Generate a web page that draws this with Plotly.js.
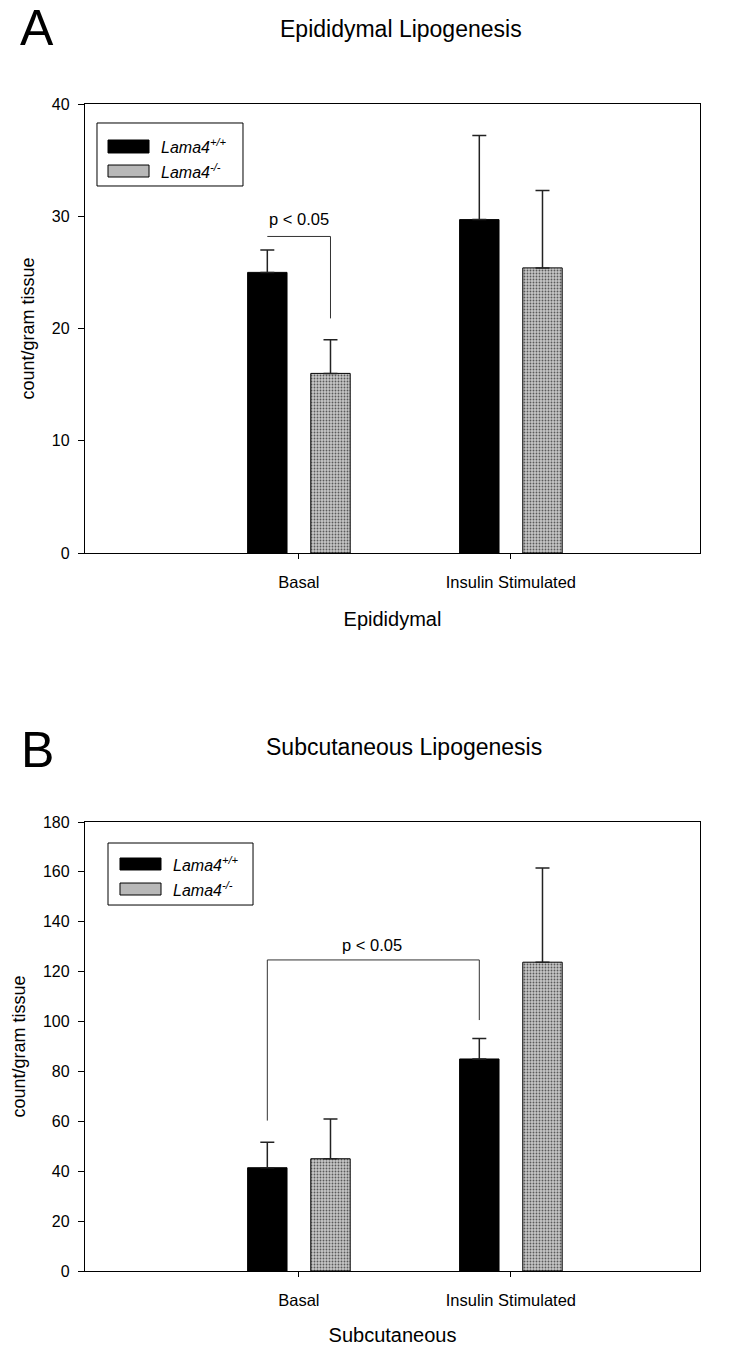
<!DOCTYPE html>
<html>
<head>
<meta charset="utf-8">
<script src="https://cdn.plot.ly/plotly-3.0.1.min.js"></script>
<style>html,body{margin:0;padding:0;background:#fff;}#chart{width:730px;height:1346px;}</style>
</head>
<body>
<div id="chart"></div>
<script>
// ---- data ----
const categories = ["Basal", "Insulin Stimulated"];
const seriesNames = ["Lama4<sup>+/+</sup>", "Lama4<sup>-/-</sup>"];

// Panel A: Epididymal lipogenesis (count/gram tissue)
const epiWT = [25.0, 29.7];
const epiWTErr = [2.0, 7.5];
const epiKO = [16.0, 25.4];
const epiKOErr = [3.0, 6.9];

// Panel B: Subcutaneous lipogenesis (count/gram tissue)
const subWT = [41.4, 85.0];
const subWTErr = [10.2, 8.2];
const subKO = [45.0, 123.8];
const subKOErr = [15.9, 37.8];

// significance brackets
const sigA = {y: 28.2, leftEnd: 28.2, rightEnd: 20.9, label: "p < 0.05", labelY: 29.8};
const sigB = {y: 124.7, leftEnd: 60.3, rightEnd: 100.6, label: "p < 0.05", labelY: 130.7};

const FONT = "Liberation Sans, Arial, Helvetica, sans-serif";
const BLACK = "#000000";
const GRAY = "#b8b8b8";

function barTrace(y, err, isKO, xa, ya) {
  const t = {
    type: "bar", x: categories, y: y, xaxis: xa, yaxis: ya, showlegend: false,
    marker: {color: isKO ? GRAY : BLACK, line: {color: "#000", width: 1}},
    error_y: {type: "data", symmetric: false, array: err, arrayminus: err.map(() => 0),
              color: "#222", thickness: 1.5, width: 7},
    hoverinfo: "skip"
  };
  if (isKO) {
    t.marker.pattern = {shape: ".", bgcolor: "#c6c6c6", fgcolor: "#5a5a5a", size: 3, solidity: 0.3};
  }
  return t;
}

const traces = [
  barTrace(epiWT, epiWTErr, false, "x", "y"),
  barTrace(epiKO, epiKOErr, true, "x", "y"),
  barTrace(subWT, subWTErr, false, "x2", "y2"),
  barTrace(subKO, subKOErr, true, "x2", "y2")
];

const off = 0.149;

const xCommon = {
  type: "category", range: [-1.009, 1.892], showline: true, mirror: true, linecolor: "#000", linewidth: 1.2,
  ticks: "outside", ticklen: 5, tickwidth: 1, tickcolor: "#000", showgrid: false, zeroline: false,
  tickfont: {family: FONT, size: 16.5, color: "#000"}, ticklabelstandoff: 9
};
const yCommon = {
  showline: true, mirror: true, linecolor: "#000", linewidth: 1.2, ticks: "outside", ticklen: 6,
  tickwidth: 1, tickcolor: "#000", showgrid: false, zeroline: false,
  tickfont: {family: FONT, size: 16, color: "#000"}, ticklabelstandoff: 5
};

const splitY = (1271 - 553) / 1167;
const topB = (1271 - 822) / 1167;

const layout = {
  width: 730, height: 1346, paper_bgcolor: "#fff", plot_bgcolor: "#fff",
  margin: {l: 85, r: 30, t: 104, b: 75},
  barmode: "group", bargap: 0.404, bargroupgap: 0.376,
  font: {family: FONT, color: "#000"},
  xaxis: Object.assign({}, xCommon, {domain: [0, 1], anchor: "y",
    title: {text: "Epididymal", font: {family: FONT, size: 20}, standoff: 22}}),
  yaxis: Object.assign({}, yCommon, {domain: [splitY, 1], anchor: "x", range: [0, 40], dtick: 10,
    title: {text: "count/gram tissue", font: {family: FONT, size: 18}, standoff: 12}}),
  xaxis2: Object.assign({}, xCommon, {domain: [0, 1], anchor: "y2",
    title: {text: "Subcutaneous", font: {family: FONT, size: 20}, standoff: 22}}),
  yaxis2: Object.assign({}, yCommon, {domain: [0, topB], anchor: "x2", range: [0, 180], dtick: 20,
    title: {text: "count/gram tissue", font: {family: FONT, size: 18}, standoff: 12}}),
  shapes: [],
  annotations: []
};

layout.annotations.push(
  {xref: "paper", yref: "paper", x: 0.5146, y: (1271 - 29) / 1167, text: "Epididymal Lipogenesis",
   showarrow: false, font: {family: FONT, size: 23}, xanchor: "center", yanchor: "middle"},
  {xref: "paper", yref: "paper", x: (37 - 85) / 615, y: (1271 - 28) / 1167, text: "A",
   showarrow: false, font: {family: FONT, size: 50}, xanchor: "center", yanchor: "middle"},
  {xref: "paper", yref: "paper", x: 0.519, y: (1271 - 747) / 1167, text: "Subcutaneous Lipogenesis",
   showarrow: false, font: {family: FONT, size: 23}, xanchor: "center", yanchor: "middle"},
  {xref: "paper", yref: "paper", x: (37 - 85) / 615, y: (1271 - 750) / 1167, text: "B",
   showarrow: false, font: {family: FONT, size: 50}, xanchor: "center", yanchor: "middle"}
);

function addLegend(xa, ya, box, sw1, sw2, tx, ty1, ty2) {
  const xr = xa + " domain", yr = ya + " domain";
  layout.shapes.push(
    {type: "rect", xref: xr, yref: yr, x0: box[0], x1: box[1], y0: box[2], y1: box[3],
     line: {color: "#000", width: 1}, fillcolor: "rgba(0,0,0,0)"},
    {type: "rect", xref: xr, yref: yr, x0: sw1[0], x1: sw1[1], y0: sw1[2], y1: sw1[3],
     line: {color: "#000", width: 1}, fillcolor: BLACK},
    {type: "rect", xref: xr, yref: yr, x0: sw2[0], x1: sw2[1], y0: sw2[2], y1: sw2[3],
     line: {color: "#000", width: 1}, fillcolor: GRAY}
  );
  layout.annotations.push(
    {xref: xr, yref: yr, x: tx, y: ty1, text: "<i>" + seriesNames[0] + "</i>", showarrow: false,
     xanchor: "left", yanchor: "middle", font: {family: FONT, size: 16}},
    {xref: xr, yref: yr, x: tx, y: ty2, text: "<i>" + seriesNames[1] + "</i>", showarrow: false,
     xanchor: "left", yanchor: "middle", font: {family: FONT, size: 16}}
  );
}
addLegend("x", "y", [0.0195, 0.2569, 0.8174, 0.9577], [0.0374, 0.1041, 0.8909, 0.9198],
          [0.0374, 0.1041, 0.8374, 0.8641], 0.1203, 0.9054, 0.8508);
addLegend("x2", "y2", [0.0374, 0.2732, 0.8151, 0.9532], [0.0569, 0.1236, 0.8931, 0.9198],
          [0.0569, 0.1236, 0.8374, 0.8641], 0.1398, 0.9065, 0.8508);

const LC = {color: "#333", width: 1};
layout.shapes.push(
  {type: "line", xref: "x", yref: "y", x0: -off, x1: off, y0: sigA.y, y1: sigA.y, line: LC},
  {type: "line", xref: "x", yref: "y", x0: off, x1: off, y0: sigA.y, y1: sigA.rightEnd, line: LC}
);
layout.annotations.push({xref: "x", yref: "y", x: 0, y: sigA.labelY, text: sigA.label, showarrow: false,
  font: {family: FONT, size: 16.5}, xanchor: "center", yanchor: "middle"});
layout.shapes.push(
  {type: "line", xref: "x2", yref: "y2", x0: -off, x1: 1 - off, y0: sigB.y, y1: sigB.y, line: LC},
  {type: "line", xref: "x2", yref: "y2", x0: -off, x1: -off, y0: sigB.y, y1: sigB.leftEnd, line: LC},
  {type: "line", xref: "x2", yref: "y2", x0: 1 - off, x1: 1 - off, y0: sigB.y, y1: sigB.rightEnd, line: LC}
);
layout.annotations.push({xref: "x2", yref: "y2", x: 0.344, y: sigB.labelY, text: sigB.label, showarrow: false,
  font: {family: FONT, size: 16.5}, xanchor: "center", yanchor: "middle"});

Plotly.newPlot("chart", traces, layout, {staticPlot: true, displayModeBar: false});
</script>
</body>
</html>
